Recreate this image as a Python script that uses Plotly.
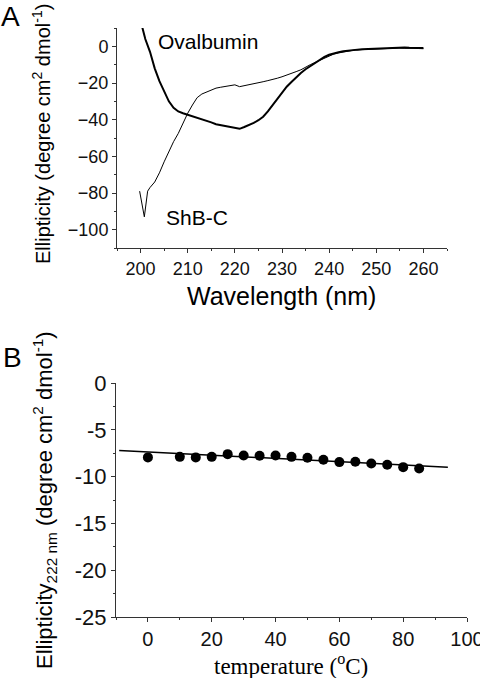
import plotly.graph_objects as go

# ---------- Panel A data ----------
oval_wl = [200.3, 201, 202, 203, 204, 205, 206, 207, 208, 209, 210, 211, 212, 213, 214, 215,
           216, 217, 218, 219, 220, 221, 222, 223, 224, 225, 226, 227, 228, 229, 230, 231,
           232, 233, 234, 235, 236, 237, 238, 239, 240, 241, 242, 243, 244, 245, 246, 247,
           248, 249, 250, 251, 252, 253, 254, 255, 256, 257, 258, 259, 260]
oval_val = [11, 4, -3, -12, -19, -25, -30, -33.5, -35.5, -36.5, -37.3, -38, -38.8, -39.5, -40.5, -41.5,
            -42.5, -43, -43.6, -44, -44.3, -45, -44, -43, -41.8, -40.3, -38.4, -35.5, -32, -29, -25, -22,
            -19.5, -16.8, -14.5, -12.5, -10.8, -9, -7.3, -5.8, -4.6, -3.8, -3.2, -2.7, -2.3, -2, -1.8, -1.6,
            -1.5, -1.3, -1.2, -1.0, -0.8, -0.6, -0.8, -0.7, -0.6, -0.8, -0.7, -0.8, -0.9]

shbc_wl = [199.8, 200.8, 201.5, 202, 203, 204, 205, 206, 207, 208, 209, 210, 211, 212, 213, 214,
           215, 216, 217, 218, 219, 220, 221, 222, 223, 224, 225, 226, 227, 228, 229, 230,
           231, 232, 233, 234, 235, 236, 237, 238, 239, 240, 241, 242, 243, 244, 245, 246,
           247, 248, 249, 250, 251, 252, 253, 254, 255, 256, 257, 258, 259, 260]
shbc_val = [-79, -93, -79, -77, -74, -69, -63, -57, -52, -47.5, -42, -36.5, -32, -28, -26, -24.8,
            -23.8, -22.8, -22.3, -21.8, -21.5, -21, -22, -21.5, -21.2, -20.5, -20, -19.3, -18.7, -18.2, -17.4, -16.6,
            -15.8, -14.8, -13.8, -12.8, -11.3, -10, -8.8, -7.6, -6.2, -5.0, -4.2, -3.6, -3, -2.6, -2.2, -1.9,
            -1.8, -1.6, -1.4, -1.3, -1.1, -1.0, -0.9, -1.0, -0.9, -1.0, -0.9, -1.1, -1.2, -1.3]

a_xticks = [200, 210, 220, 230, 240, 250, 260]
a_yticks = [0, -20, -40, -60, -80, -100]

# ---------- Panel B data ----------
temp_c = [0, 10, 15, 20, 25, 30, 35, 40, 45, 50, 55, 60, 65, 70, 75, 80, 85]
ell_222 = [-7.95, -7.89, -7.95, -7.89, -7.6, -7.74, -7.78, -7.74, -7.89, -7.99, -8.2, -8.45, -8.42,
           -8.6, -8.74, -8.99, -9.13]
fit_x = [-9, 94]
fit_y = [-7.2, -9.0]

b_xticks = [0, 20, 40, 60, 80, 100]
b_yticks = [0, -5, -10, -15, -20, -25]

W, H = 480, 678
def px(x): return x / W
def py(y): return 1 - y / H
def lab(v): return [str(t) for t in v]

fig = go.Figure()
fig.add_trace(go.Scatter(x=oval_wl, y=oval_val, mode="lines", line=dict(color="black", width=2),
                         xaxis="x", yaxis="y", showlegend=False))
fig.add_trace(go.Scatter(x=shbc_wl, y=shbc_val, mode="lines", line=dict(color="black", width=1),
                         xaxis="x", yaxis="y", showlegend=False))
fig.add_trace(go.Scatter(x=fit_x, y=fit_y, mode="lines", line=dict(color="black", width=1.5),
                         xaxis="x2", yaxis="y2", showlegend=False))
fig.add_trace(go.Scatter(x=temp_c, y=ell_222, mode="markers", marker=dict(color="black", size=10),
                         xaxis="x2", yaxis="y2", showlegend=False))

ax_common = dict(showline=True, linecolor="#333", linewidth=1, showgrid=False, zeroline=False,
                 ticks="outside", tickcolor="#333", automargin=False, tickmode="array",
                 ticklabeloverflow="allow")

fig.update_layout(
    width=W, height=H, margin=dict(l=0, r=0, t=0, b=0),
    paper_bgcolor="white", plot_bgcolor="white",
    font=dict(family="Liberation Sans, Arial", color="#111"),
    xaxis=dict(domain=[px(117), px(447)], range=[195, 265], anchor="y",
               tickvals=a_xticks,
               ticklen=4, tickfont=dict(size=18),
               minor=dict(dtick=5, tick0=195, ticklen=2, ticks="outside", tickcolor="#333"),
               **ax_common),
    yaxis=dict(domain=[py(248), py(28)], range=[-110, 10], anchor="x",
               tickvals=a_yticks,
               ticklen=4, tickfont=dict(size=18),
               minor=dict(dtick=10, tick0=0, ticklen=2, ticks="outside", tickcolor="#333"),
               **ax_common),
    xaxis2=dict(domain=[px(116), px(467)], range=[-10, 100], anchor="y2",
                tickvals=b_xticks, ticktext=lab(b_xticks),
                ticklen=4, tickfont=dict(size=20),
                minor=dict(dtick=10, tick0=0, ticklen=2, ticks="outside", tickcolor="#333"),
                **ax_common),
    yaxis2=dict(domain=[py(617), py(383)], range=[-25, 0], anchor="x2",
                tickvals=b_yticks, ticktext=lab(b_yticks),
                ticklen=4, tickfont=dict(size=22),
                minor=dict(dtick=2.5, tick0=0, ticklen=2, ticks="outside", tickcolor="#333"),
                **ax_common),
)

ann = [
    dict(text="A", x=px(10), y=py(17), font=dict(size=28, color="black")),
    dict(text="B", x=px(12), y=py(357), font=dict(size=28, color="black")),
    dict(text="Ovalbumin", x=px(208), y=py(42), font=dict(size=21, color="black")),
    dict(text="ShB-C", x=px(197), y=py(217), font=dict(size=21, color="black")),
    dict(text="Wavelength (nm)", x=px(281), y=py(296), font=dict(size=25, color="black")),
    dict(text="Ellipticity (degree cm<sup>2</sup> dmol<sup>-1</sup>)", x=px(41), y=py(134),
         textangle=-90, font=dict(size=20, color="black")),
    dict(text="Ellipticity<sub>222 nm</sub> (degree cm<sup>2</sup> dmol<sup>-1</sup>)", x=px(44), y=py(500),
         textangle=-90, font=dict(size=22, color="black")),
    dict(text="temperature (<sup>o</sup>C)", x=px(291), y=py(664),
         font=dict(size=23, color="black", family="Liberation Serif, Times New Roman")),
]
for a in ann:
    fig.add_annotation(xref="paper", yref="paper", showarrow=False, xanchor="center", yanchor="middle", **a)

fig.write_html("out.html", config={"displayModeBar": False},
               post_script="document.body.style.margin='0';document.body.style.overflow='hidden';")
